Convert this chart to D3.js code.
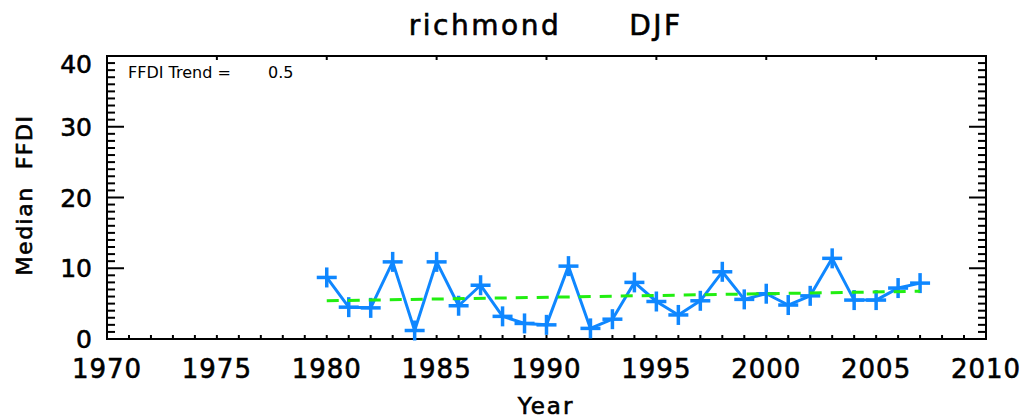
<!DOCTYPE html>
<html>
<head>
<meta charset="utf-8">
<script src="https://cdn.jsdelivr.net/npm/d3@7"></script>
<style>
  html, body { margin: 0; padding: 0; background: #fff; }
  text { font-family: "DejaVu Sans", sans-serif; fill: #000; }
  .heavy { stroke: #000; stroke-width: 0.6px; }
</style>
</head>
<body>
<svg id="chart" width="1026" height="418"></svg>
<script>
// ---------------- data ----------------
const years = [1980,1981,1982,1983,1984,1985,1986,1987,1988,1989,1990,1991,1992,1993,
               1994,1995,1996,1997,1998,1999,2000,2001,2002,2003,2004,2005,2006,2007];
const ffdi  = [8.7,4.5,4.4,10.9,1.2,10.9,4.7,7.6,3.2,2.2,2.0,10.3,1.5,2.8,
               8.0,5.3,3.4,5.4,9.5,5.6,6.4,4.8,6.1,11.4,5.5,5.5,7.2,7.9];
const trendYears = [1980, 2007];
const trendValues = [5.4, 6.75];
const xTickLabels = [1970,1975,1980,1985,1990,1995,2000,2005,2010];
const yTickLabels = [0,10,20,30,40];
const titleStation = "richmond";
const titleSeason = "DJF";
const trendLabel = "FFDI Trend =";
const trendValueText = "0.5";
const xTitle = "Year";
const yTitle = "Median  FFDI";

// ---------------- layout ----------------
const svg = d3.select("#chart");
const L = 107, R = 986, T = 56, B = 339;
const x = d3.scaleLinear().domain([1970, 2010]).range([L, R]);
const y = d3.scaleLinear().domain([0, 40]).range([B, T]);
const blue = "#0f87ff", green = "#22ee11";

// frame
svg.append("rect").attr("x", L).attr("y", T).attr("width", R - L).attr("height", B - T)
  .attr("fill", "none").attr("stroke", "#000").attr("stroke-width", 2);

// y minor/major ticks (left and right, inward)
const yMinor = d3.range(0, 41, 1);
svg.append("g").selectAll("line").data(yMinor).join("line")
  .attr("x1", L).attr("x2", d => L + (d % 10 === 0 ? 17 : 8))
  .attr("y1", d => y(d)).attr("y2", d => y(d))
  .attr("stroke", "#000").attr("stroke-width", 2);
svg.append("g").selectAll("line").data(yMinor).join("line")
  .attr("x1", R).attr("x2", d => R - (d % 10 === 0 ? 17 : 8))
  .attr("y1", d => y(d)).attr("y2", d => y(d))
  .attr("stroke", "#000").attr("stroke-width", 2);

// x ticks: bottom every year, top majors only
const xMinor = d3.range(1970, 2011, 1);
svg.append("g").selectAll("line").data(xMinor).join("line")
  .attr("x1", d => x(d)).attr("x2", d => x(d))
  .attr("y1", B).attr("y2", B - 4)
  .attr("stroke", "#000").attr("stroke-width", 2);
svg.append("g").selectAll("line").data(xTickLabels).join("line")
  .attr("x1", d => x(d)).attr("x2", d => x(d))
  .attr("y1", T).attr("y2", T + 4)
  .attr("stroke", "#000").attr("stroke-width", 2);

// tick labels
svg.append("g").selectAll("text").data(yTickLabels).join("text")
  .attr("class", "heavy")
  .attr("x", L - 15).attr("y", d => y(d)).attr("dy", d => d === 40 ? "0.66em" : "0.36em")
  .attr("text-anchor", "end").attr("font-size", 25).text(d => d);
svg.append("g").selectAll("text").data(xTickLabels).join("text")
  .attr("class", "heavy")
  .attr("x", d => x(d)).attr("y", 378)
  .attr("text-anchor", "middle").attr("font-size", 26)
  .attr("letter-spacing", 1).text(d => d);

// titles
svg.append("text").attr("class", "heavy").attr("x", 485).attr("y", 35).attr("text-anchor", "middle")
  .attr("font-size", 28).attr("letter-spacing", 2.5).text(titleStation);
svg.append("text").attr("class", "heavy").attr("x", 656).attr("y", 35).attr("text-anchor", "middle")
  .attr("font-size", 28).attr("letter-spacing", 2.5).text(titleSeason);
svg.append("text").attr("class", "heavy").attr("x", 546).attr("y", 414).attr("text-anchor", "middle")
  .attr("font-size", 23).attr("letter-spacing", 2).text(xTitle);
svg.append("text").attr("class", "heavy").attr("transform", "translate(32,195) rotate(-90)")
  .attr("text-anchor", "middle").attr("font-size", 22).attr("letter-spacing", 1.5)
  .style("white-space", "pre").text(yTitle);

// annotation
svg.append("text").attr("x", 128).attr("y", 78).attr("font-size", 16)
  .text(trendLabel);
svg.append("text").attr("x", 268).attr("y", 78).attr("font-size", 16)
  .text(trendValueText);

// data line
const pts = years.map((yr, i) => [yr, ffdi[i]]);
svg.append("path").datum(pts)
  .attr("d", d3.line().x(d => x(d[0])).y(d => y(d[1])))
  .attr("fill", "none").attr("stroke", blue).attr("stroke-width", 3)
  .attr("stroke-linejoin", "round");
const arm = 10;
const plus = svg.append("g").selectAll("g").data(pts).join("g")
  .attr("transform", d => `translate(${x(d[0])},${y(d[1])})`);
plus.append("line").attr("x1", -arm).attr("x2", arm).attr("y1", 0).attr("y2", 0)
  .attr("stroke", blue).attr("stroke-width", 3.5);
plus.append("line").attr("x1", 0).attr("x2", 0).attr("y1", -arm).attr("y2", arm)
  .attr("stroke", blue).attr("stroke-width", 3.5);

// trend line
const tpts = trendYears.map((yr, i) => [yr, trendValues[i]]);
svg.append("path").datum(tpts)
  .attr("d", d3.line().x(d => x(d[0])).y(d => y(d[1])))
  .attr("fill", "none").attr("stroke", green).attr("stroke-width", 3)
  .attr("stroke-dasharray", "12,9");
</script>
</body>
</html>
